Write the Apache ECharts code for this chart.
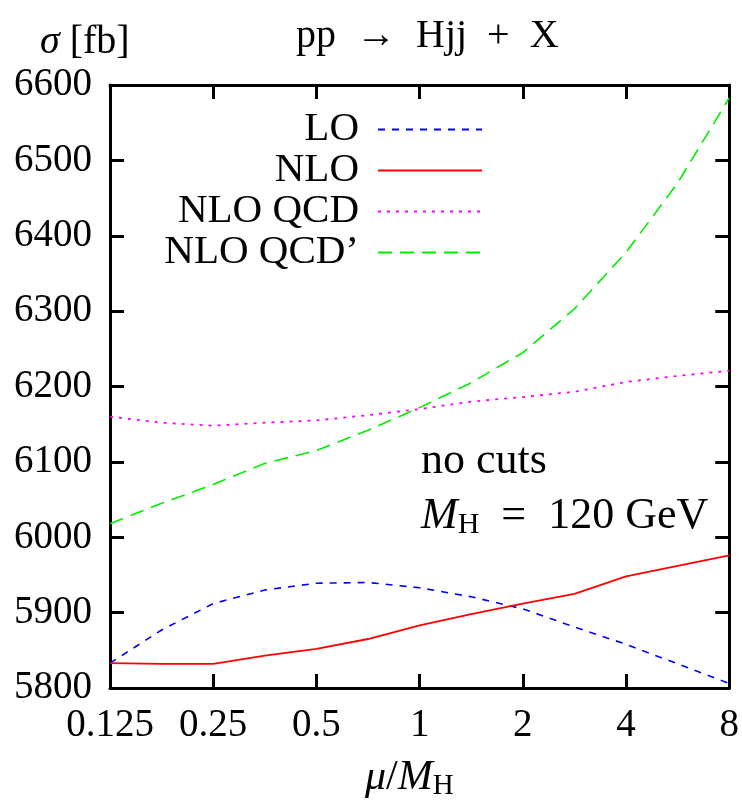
<!DOCTYPE html>
<html><head><meta charset="utf-8">
<script src="https://cdn.jsdelivr.net/npm/echarts@6/dist/echarts.min.js"></script>
<style>html,body{margin:0;padding:0;background:#fff}#c{width:742px;height:806px}</style>
</head><body><div id="c"></div>
<script>
const muValues = [0.125, 0.1768, 0.25, 0.3536, 0.5, 0.7071, 1, 1.4142, 2, 2.8284, 4, 5.6569, 8];
const loValues = [5833, 5877, 5912, 5930, 5939, 5940, 5933, 5921, 5905, 5881, 5858, 5832, 5806];
const nloValues = [5833, 5832, 5832, 5843, 5852, 5865, 5883, 5898, 5912, 5925, 5948, 5962, 5976];
const nloQcdValues = [6160, 6152, 6148, 6152, 6155, 6162, 6170, 6180, 6186, 6193, 6206, 6214, 6221];
const nloQcdPValues = [6018, 6045, 6070, 6098, 6115, 6142, 6172, 6205, 6245, 6303, 6378, 6470, 6583];
const xTickLabels = {0.125:'0.125',0.25:'0.25',0.5:'0.5',1:'1',2:'2',4:'4',8:'8'};
const seriesNames = ['LO', 'NLO', 'NLO QCD', "NLO QCD’"];

const FONT = 'Liberation Serif';
const FS = 39;
const pair = arr => muValues.map((x,i)=>[x, arr[i]]);
const chart = echarts.init(document.getElementById('c'), null, {renderer:'canvas'});
const axLine = {show:true, lineStyle:{color:'#000', width:3}};
const tick = {show:true, inside:true, length:14, lineStyle:{color:'#000', width:3}};
chart.setOption({
  animation:false,
  backgroundColor:'#fff',
  grid:{left:110, right:7, top:85, bottom:118},
  xAxis:[
    {type:'log', logBase:2, min:0.125, max:8, axisLine:axLine, axisTick:tick, splitLine:{show:false}, minorTick:{show:false},
     axisLabel:{color:'#000', fontFamily:FONT, fontSize:FS, margin:18, formatter:v=>xTickLabels[+v.toPrecision(6)]||''}},
    {type:'log', logBase:2, min:0.125, max:8, position:'top', axisLine:axLine, axisTick:tick, splitLine:{show:false}, axisLabel:{show:false}}
  ],
  yAxis:[
    {type:'value', min:5800, max:6600, interval:100, axisLine:axLine, axisTick:tick, splitLine:{show:false},
     axisLabel:{color:'#000', fontFamily:FONT, fontSize:FS, margin:18, formatter:v=>String(v)}},
    {type:'value', min:5800, max:6600, interval:100, position:'right', axisLine:axLine, axisTick:tick, splitLine:{show:false}, axisLabel:{show:false}}
  ],
  legend:{
    orient:'vertical', right:259, top:109, align:'right', itemWidth:104, itemHeight:14, itemGap:0, padding:0,
    itemStyle:{opacity:0},
    textStyle:{color:'#000', fontFamily:FONT, fontSize:41, lineHeight:38, padding:[0,14,0,0]},
    data:seriesNames
  },
  series:[
    {name:seriesNames[0], type:'line', data:pair(loValues), symbol:'none',
     lineStyle:{color:'#0000ff', width:1.6, type:[7,7]}, itemStyle:{color:'#0000ff'}},
    {name:seriesNames[1], type:'line', data:pair(nloValues), symbol:'none',
     lineStyle:{color:'#ff0000', width:1.8, type:'solid'}, itemStyle:{color:'#ff0000'}},
    {name:seriesNames[2], type:'line', data:pair(nloQcdValues), symbol:'none',
     lineStyle:{color:'#ff00ff', width:1.8, type:[3,6]}, itemStyle:{color:'#ff00ff'}},
    {name:seriesNames[3], type:'line', data:pair(nloQcdPValues), symbol:'none',
     lineStyle:{color:'#00ee00', width:1.6, type:[14,8]}, itemStyle:{color:'#00ee00'}}
  ],
  graphic:[
    {type:'text', left:40, top:22, style:{text:'{i|σ} [fb]', fontFamily:FONT, fontSize:40, fill:'#000',
      rich:{i:{fontStyle:'italic', fontFamily:FONT, fontSize:40}}}},
    {type:'text', left:296, top:16, style:{text:'pp  →  Hjj  +  X', fontFamily:FONT, fontSize:40, fill:'#000'}},
    {type:'text', left:421, top:439, style:{text:'no cuts', fontFamily:FONT, fontSize:44, fill:'#000'}},
    {type:'text', left:421, top:494, style:{text:'{i|M}{s|H}  =  120 GeV', fontFamily:FONT, fontSize:44, fill:'#000',
      rich:{i:{fontStyle:'italic', fontFamily:FONT, fontSize:44}, s:{fontFamily:FONT, fontSize:30, verticalAlign:'bottom', padding:[18,0,0,0]}}}},
    {type:'text', left:365, top:757, style:{text:'{i|μ}/{i|M}{s|H}', fontFamily:FONT, fontSize:42, fill:'#000',
      rich:{i:{fontStyle:'italic', fontFamily:FONT, fontSize:42}, s:{fontFamily:FONT, fontSize:29, verticalAlign:'bottom', padding:[17,0,0,0]}}}}
  ]
});
</script></body></html>
